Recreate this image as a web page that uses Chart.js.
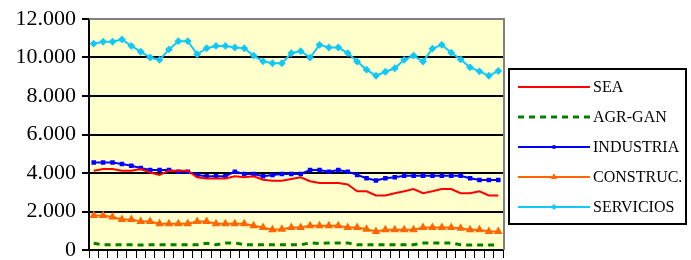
<!DOCTYPE html>
<html>
<head>
<meta charset="utf-8">
<script src="https://cdn.jsdelivr.net/npm/chart.js@4/dist/chart.umd.min.js"></script>
<style>
html, body { margin: 0; padding: 0; background: #fff; }
</style>
</head>
<body>
<canvas id="grafico" width="691" height="260"></canvas>
<script>
// periodos (sin rotulo en el eje)
var periodos = ['1','2','3','4','5','6','7','8','9','10','11','12','13','14','15','16','17','18','19','20','21','22',
                '23','24','25','26','27','28','29','30','31','32','33','34','35','36','37','38','39','40','41','42','43','44'];

var sea = [4120, 4210, 4210, 4120, 4120, 4210, 4030, 3900, 4120, 4120, 4120, 3780, 3720, 3720, 3720, 3830, 3780, 3830, 3650, 3600, 3600, 3690,
           3775, 3570, 3480, 3480, 3480, 3400, 3050, 3050, 2830, 2830, 2950, 3050, 3170, 2950, 3050, 3170, 3170, 2950, 2950, 3050, 2830, 2830];
var agrGan = [350, 270, 270, 270, 270, 260, 270, 270, 270, 270, 270, 270, 350, 270, 370, 370, 270, 270, 270, 270, 270, 270,
              270, 370, 340, 370, 370, 370, 270, 270, 270, 270, 270, 270, 270, 360, 370, 370, 370, 270, 260, 260, 260, 260];
var industria = [4550, 4550, 4550, 4470, 4380, 4260, 4160, 4160, 4160, 4070, 4070, 3900, 3830, 3830, 3830, 4070, 3950, 3950, 3830, 3900, 3950, 3950,
                 3950, 4150, 4150, 4070, 4150, 4070, 3900, 3730, 3610, 3730, 3780, 3860, 3860, 3860, 3860, 3860, 3860, 3860, 3730, 3640, 3640, 3640];
var construc = [1790, 1790, 1710, 1590, 1590, 1480, 1480, 1360, 1360, 1360, 1360, 1480, 1480, 1360, 1360, 1360, 1360, 1260, 1170, 1050, 1080, 1170,
                1170, 1260, 1260, 1260, 1260, 1170, 1170, 1080, 960, 1050, 1050, 1050, 1050, 1170, 1170, 1170, 1170, 1130, 1050, 1050, 960, 960];
var servicios = [10720, 10820, 10820, 10940, 10600, 10300, 10000, 9880, 10420, 10850, 10850, 10170, 10480, 10600, 10600, 10520, 10480, 10100, 9800, 9700, 9700, 10220,
                 10330, 9990, 10660, 10520, 10520, 10230, 9790, 9370, 9050, 9260, 9440, 9880, 10100, 9790, 10460, 10660, 10250, 9900, 9490, 9280, 9050, 9300];

var yMin = 0, yMax = 12000, yPaso = 2000;

var fuente = 'Liberation Serif, Times New Roman, serif';

function miles(v) {
    return String(v).replace(/\B(?=(\d{3})+(?!\d))/g, '.');
}

// fondo amarillo del area de trazado
var fondo = {
    id: 'fondo',
    beforeDraw(chart) {
        let a = chart.chartArea, ctx = chart.ctx;
        ctx.save();
        ctx.fillStyle = '#FFFFCC';
        ctx.fillRect(a.left, a.top, a.right - a.left, a.bottom - a.top);
        ctx.restore();
    },
    beforeDatasetsDraw(chart) {
        let a = chart.chartArea, ctx = chart.ctx;
        ctx.save();
        ctx.strokeStyle = '#808080';
        ctx.lineWidth = 2;
        ctx.beginPath();
        ctx.moveTo(a.left, a.top);
        ctx.lineTo(a.right + 1, a.top);
        ctx.lineTo(a.right + 1, a.bottom);
        ctx.stroke();
        ctx.restore();
    }
};

// leyenda en recuadro a la derecha
var leyenda = {
    id: 'leyenda',
    afterDraw(chart) {
        let ctx = chart.ctx;
        ctx.save();
        ctx.strokeStyle = '#000';
        ctx.lineWidth = 2;
        ctx.strokeRect(509, 69, 177, 155);
        chart.data.datasets.forEach((ds, i) => {
            let y = 87 + i * 30;
            ctx.save();
            ctx.strokeStyle = ds.borderColor;
            ctx.lineWidth = ds.borderWidth;
            ctx.setLineDash(ds.borderDash || []);
            ctx.beginPath();
            ctx.moveTo(518, y);
            ctx.lineTo(590, y);
            ctx.stroke();
            ctx.restore();
            if (ds.pointRadius > 0) {
                ctx.fillStyle = ds.borderColor;
                ctx.strokeStyle = ds.borderColor;
                ctx.lineWidth = 1;
                Chart.helpers.drawPoint(ctx, { pointStyle: ds.pointStyle, radius: ds.pointRadius, rotation: 0, borderWidth: 1 }, 554, y);
            }
            ctx.fillStyle = '#000';
            ctx.font = '16px ' + fuente;
            ctx.textBaseline = 'middle';
            ctx.fillText(ds.label, 593, y + 1);
        });
        ctx.restore();
    }
};

new Chart('grafico', {
    type: 'line',
    data: {
        labels: periodos,
        datasets: [{
            label: 'SEA',
            data: sea,
            borderColor: '#FF0000',
            borderWidth: 2,
            pointRadius: 0
        }, {
            label: 'AGR-GAN',
            data: agrGan,
            borderColor: '#008000',
            borderWidth: 3,
            borderDash: [6, 5],
            pointRadius: 0
        }, {
            label: 'INDUSTRIA',
            data: industria,
            borderColor: '#0000FF',
            backgroundColor: '#0000FF',
            borderWidth: 2,
            pointStyle: 'rect',
            pointRadius: 1.8
        }, {
            label: 'CONSTRUC.',
            data: construc,
            borderColor: '#FF6600',
            backgroundColor: '#FF6600',
            borderWidth: 2,
            pointStyle: 'triangle',
            pointRadius: 3
        }, {
            label: 'SERVICIOS',
            data: servicios,
            borderColor: '#12C8F5',
            backgroundColor: '#12C8F5',
            borderWidth: 2,
            pointStyle: 'rectRot',
            pointRadius: 2.5
        }]
    },
    options: {
        responsive: false,
        animation: false,
        devicePixelRatio: 1,
        layout: { padding: { left: 0, top: 19, right: 188, bottom: 0 } },
        plugins: { legend: { display: false }, tooltip: { enabled: false } },
        scales: {
            x: {
                type: 'category',
                offset: true,
                grid: { offset: true, drawOnChartArea: false, drawTicks: true, tickLength: 8, color: '#000', lineWidth: 1 },
                border: { color: '#000', width: 2 },
                ticks: { display: false, autoSkip: false },
                afterFit(s) { s.height = 10; }
            },
            y: {
                min: yMin,
                max: yMax,
                ticks: {
                    stepSize: yPaso,
                    color: '#000',
                    padding: 6,
                    font: { family: fuente, size: 22 },
                    callback: v => miles(v)
                },
                grid: {
                    color: c => c.tick && c.tick.value === yMax ? '#808080' : '#000',
                    lineWidth: 2,
                    tickLength: 7,
                    tickColor: '#000'
                },
                border: { color: '#000', width: 2 },
                afterFit(s) {
                    s.width = 89;
                    s.paddingTop = 0;
                    s.paddingBottom = 0;
                }
            }
        }
    },
    plugins: [fondo, leyenda]
});
</script>
</body>
</html>
